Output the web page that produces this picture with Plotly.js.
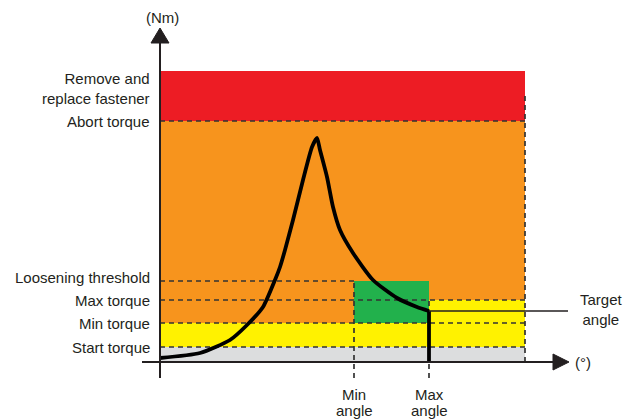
<!DOCTYPE html>
<html>
<head>
<meta charset="utf-8">
<script src="https://cdn.plot.ly/plotly-3.0.1.min.js"></script>
<style>html,body{margin:0;padding:0;background:#fff}#chart{width:636px;height:420px}</style>
</head>
<body>
<div id="chart"></div>
<script>
// Torque levels (Nm, schematic units)
const startTorque = 15;
const minTorque = 39;
const maxTorque = 62;
const looseningThreshold = 81;
const abortTorque = 241;
const scaleTop = 291;
const removeLabelTorque = 273;

// Angle levels (degrees, schematic units)
const minAngle = 194;
const maxAngle = 269;
const angleEnd = 365;

// Tightening curve
const curveAngle  = [0, 40, 70, 87, 103, 115, 120, 125, 133, 143, 152, 157, 160, 167, 173, 180, 193, 213, 237, 257, 269];
const curveTorque = [4,  9, 22, 37,  55,  82,  95, 112, 142, 182, 215, 224, 212, 185, 155, 132, 109,  82,  64,  55,  51];
const finalTorque = 51;

// Labels
const yLabelText   = ["Start torque", "Min torque", "Max torque", "Loosening threshold", "Abort torque", "Remove and<br>replace fastener"];
const yLabelTorque = [startTorque, minTorque, maxTorque, looseningThreshold, abortTorque, removeLabelTorque];
const yLabelShift  = [0, 0, 0, 4, 0, 0];
const xLabelTop    = ["Min", "Max"];
const xLabelBottom = ["angle", "angle"];
const xLabelAngle  = [minAngle, maxAngle];

const INK = '#231F20';
const DASH = '#333333';
const FONT = 'Liberation Sans, Arial, sans-serif';
const XR = [-20, 414], YR = [-18, 336];
const px = x => (x - XR[0]) / (XR[1] - XR[0]);
const py = y => (y - YR[0]) / (YR[1] - YR[0]);

function rect(x0, x1, y0, y1, color) {
  return {type: 'rect', xref: 'x', yref: 'y', x0, x1, y0, y1, fillcolor: color, line: {width: 0}, layer: 'below'};
}
function dline(x0, y0, x1, y1) {
  return {type: 'line', xref: 'x', yref: 'y', x0, y0, x1, y1, line: {color: DASH, width: 1.7, dash: '5px,4px'}, layer: 'below'};
}
function sline(x0, y0, x1, y1, w) {
  return {type: 'line', xref: 'x', yref: 'y', x0, y0, x1, y1, line: {color: INK, width: w}};
}

const shapes = [
  rect(0, angleEnd, 0, startTorque, '#DCDDDE'),
  rect(0, angleEnd, startTorque, minTorque, '#FFF200'),
  rect(0, angleEnd, minTorque, abortTorque, '#F7941D'),
  rect(maxAngle, angleEnd, minTorque, maxTorque, '#FFF200'),
  rect(minAngle, maxAngle, minTorque, looseningThreshold, '#22B14C'),
  rect(0, angleEnd, abortTorque, scaleTop, '#ED1C24'),
  dline(0, abortTorque, angleEnd, abortTorque),
  dline(0, looseningThreshold, minAngle, looseningThreshold),
  dline(0, maxTorque, angleEnd, maxTorque),
  dline(0, minTorque, angleEnd, minTorque),
  dline(0, startTorque, angleEnd, startTorque),
  dline(angleEnd, 0, angleEnd, 269),
  dline(minAngle, -16, minAngle, looseningThreshold),
  dline(maxAngle, -16, maxAngle, maxTorque),
  // axes
  sline(0, -16, 0, 320, 2),
  sline(-18, 0, 394, 0, 2),
  {type: 'path', xref: 'x', yref: 'y', path: 'M -9,319 L 9,319 L 0,334 Z', fillcolor: INK, line: {color: INK, width: 1}},
  {type: 'path', xref: 'x', yref: 'y', path: 'M 393,-8 L 393,8 L 409,0 Z', fillcolor: INK, line: {color: INK, width: 1}},
  // target angle line
  sline(maxAngle, finalTorque, 408, finalTorque, 1.7)
];

const annotations = [];
function note(x, y, text, opts) {
  annotations.push(Object.assign({
    x: px(x), y: py(y), xref: 'paper', yref: 'paper', text, showarrow: false,
    xanchor: 'center', yanchor: 'middle', align: 'center',
    font: {family: FONT, size: 15, color: INK}
  }, opts || {}));
}
yLabelText.forEach((t, i) => note(-8, yLabelTorque[i], t, {xanchor: 'right', align: 'right', yshift: yLabelShift[i]}));
xLabelAngle.forEach((a, i) => {
  note(a, -33, xLabelTop[i]);
  note(a, -49, xLabelBottom[i]);
});
note(2, 344, '(Nm)');
note(423, 0, '(°)');
note(441, finalTorque + 2, 'Target<br>angle');

const traces = [
  {x: curveAngle, y: curveTorque, mode: 'lines', line: {color: '#000', width: 3.8, shape: 'spline', smoothing: 0.6}, hoverinfo: 'skip', cliponaxis: false},
  {x: [maxAngle, maxAngle], y: [finalTorque, 0], mode: 'lines', line: {color: '#000', width: 3.8}, hoverinfo: 'skip'}
];

const layout = {
  width: 636, height: 420,
  margin: {l: 140, r: 62, t: 26, b: 40, pad: 0},
  paper_bgcolor: '#fff', plot_bgcolor: '#fff',
  showlegend: false,
  xaxis: {range: XR, visible: false, fixedrange: true},
  yaxis: {range: YR, visible: false, fixedrange: true},
  shapes, annotations
};

Plotly.newPlot('chart', traces, layout, {displayModeBar: false, staticPlot: true});
</script>
</body>
</html>
